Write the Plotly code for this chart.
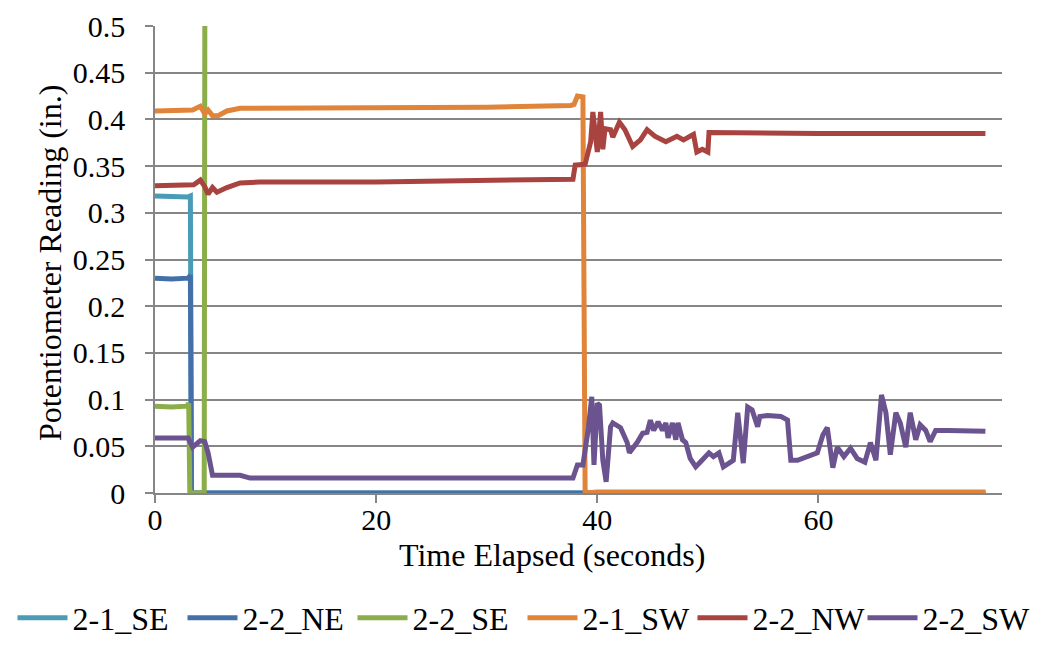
import plotly.graph_objects as go

# ---------------- data ----------------
series_names = ["2-1_SE", "2-2_NE", "2-2_SE", "2-1_SW", "2-2_NW", "2-2_SW"]
series_colors = ["#4A9BB6", "#4470AA", "#8BAD4A", "#E0843A", "#A84340", "#6B538F"]

t_21_SE = [0, 1.5, 3.0, 3.2, 3.3, 20, 40, 60, 75.1]
y_21_SE = [0.318, 0.317, 0.317, 0.318, 0.0, 0.0, 0.0, 0.0, 0.0]

t_22_NE = [0, 1.5, 3.0, 3.2, 3.3, 20, 40, 60, 75.1]
y_22_NE = [0.230, 0.229, 0.230, 0.233, 0.0, 0.0, 0.0, 0.0, 0.0]

t_22_SE = [0, 1.5, 2.9, 3.05, 3.15, 4.45, 4.55, 75.1]
y_22_SE = [0.093, 0.092, 0.093, 0.096, 0.0, 0.0, 0.9, 0.9]

t_21_SW = [0, 3.4, 4.1, 4.5, 4.8, 5.2, 5.7, 6.5, 7.7, 20, 30, 37.6, 37.9,
           38.2, 38.7, 38.9, 40, 60, 75.1]
y_21_SW = [0.409, 0.410, 0.414, 0.406, 0.410, 0.404, 0.404, 0.409, 0.412,
           0.412, 0.413, 0.415, 0.416, 0.425, 0.424, 0.0, 0.001, 0.001, 0.001]

t_22_NW = [0, 3.0, 3.5, 4.1, 4.5, 4.8, 5.2, 5.6, 6.5, 7.7, 9.5, 20, 30, 37.8,
           38.0, 38.9, 39.4, 39.6, 40.0, 40.3, 40.5, 40.7, 41.2, 41.4, 42.0,
           42.5, 43.2, 43.9, 44.5, 45.2, 46.2, 47.2, 47.8, 48.7, 49.0, 49.5,
           50.0, 50.1, 60, 75.1]
y_22_NW = [0.329, 0.329, 0.330, 0.335, 0.328, 0.320, 0.327, 0.322, 0.327,
           0.332, 0.333, 0.333, 0.334, 0.336, 0.351, 0.352, 0.376, 0.408,
           0.365, 0.408, 0.368, 0.390, 0.389, 0.381, 0.397, 0.389, 0.371,
           0.378, 0.389, 0.382, 0.376, 0.382, 0.378, 0.384, 0.365, 0.368,
           0.365, 0.386, 0.385, 0.385]

t_22_SW = [0, 3.0, 3.4, 4.1, 4.5, 4.8, 5.2, 7.7, 8.6, 20, 30, 37.8, 38.2,
           38.7, 39.2, 39.5, 39.7, 40.0, 40.2, 40.5, 40.8, 41.2, 41.4, 42.1,
           42.7, 42.9, 43.6, 44.1, 44.5, 44.8, 45.1, 45.5, 45.9, 46.2, 46.4,
           46.8, 47.1, 47.3, 47.7, 48.0, 48.4, 48.9, 49.3, 50.1, 50.5, 51.0,
           51.4, 52.0, 52.3, 52.7, 52.9, 53.2, 53.6, 54.0, 54.5, 54.7, 55.4,
           56.6, 57.2, 57.5, 58.1, 59.0, 59.9, 60.4, 60.8, 61.3, 61.7, 62.3,
           62.9, 63.5, 64.2, 64.7, 65.2, 65.7, 66.1, 66.5, 67.0, 67.4, 67.9,
           68.3, 68.8, 69.2, 69.7, 70.1, 70.6, 71.7, 73.8, 75.1]
y_22_SW = [0.059, 0.059, 0.049, 0.056, 0.055, 0.043, 0.019, 0.019, 0.016,
           0.016, 0.016, 0.016, 0.030, 0.030, 0.070, 0.103, 0.030, 0.096,
           0.094, 0.035, 0.012, 0.071, 0.075, 0.070, 0.054, 0.043, 0.054,
           0.064, 0.065, 0.078, 0.067, 0.076, 0.067, 0.075, 0.059, 0.075,
           0.057, 0.075, 0.057, 0.054, 0.037, 0.028, 0.033, 0.043, 0.039,
           0.043, 0.028, 0.033, 0.035, 0.086, 0.064, 0.032, 0.092, 0.089,
           0.071, 0.082, 0.083, 0.082, 0.078, 0.035, 0.035, 0.039, 0.043,
           0.062, 0.070, 0.027, 0.049, 0.039, 0.048, 0.037, 0.033, 0.054,
           0.035, 0.105, 0.086, 0.041, 0.086, 0.075, 0.049, 0.086, 0.057,
           0.073, 0.067, 0.055, 0.067, 0.067, 0.066, 0.066]

x_ticks = [0, 20, 40, 60]
y_ticks = [0, 0.05, 0.1, 0.15, 0.2, 0.25, 0.3, 0.35, 0.4, 0.45, 0.5]
y_tick_labels = ["0", "0.05", "0.1", "0.15", "0.2", "0.25", "0.3", "0.35",
                 "0.4", "0.45", "0.5"]

x_title = "Time Elapsed (seconds)"
y_title = "Potentiometer Reading (in.)"

# ---------------- figure ----------------
FONT = "Liberation Serif"
GRID = "#868686"
W, H = 1045, 645
PL, PR, PT, PB = 155, 1002, 26, 493   # plot-area edges in pixels

all_t = [t_21_SE, t_22_NE, t_22_SE, t_21_SW, t_22_NW, t_22_SW]
all_y = [y_21_SE, y_22_NE, y_22_SE, y_21_SW, y_22_NW, y_22_SW]

fig = go.Figure()
for name, color, tt, yy in zip(series_names, series_colors, all_t, all_y):
    fig.add_trace(go.Scatter(x=tt, y=yy, name=name, mode="lines",
                             line=dict(color=color, width=5)))

fig.update_layout(
    width=W, height=H,
    margin=dict(l=0, r=0, t=PT, b=H - PB, autoexpand=False),
    paper_bgcolor="white", plot_bgcolor="white",
    font=dict(family=FONT, size=30, color="black"),
    showlegend=True,
    legend=dict(orientation="h", xref="container", yref="container",
                x=0.5, xanchor="center", y=1 - 618 / H, yanchor="middle",
                font=dict(family=FONT, size=32, color="black"),
                itemwidth=50, entrywidth=105, tracegroupgap=0,
                bgcolor="rgba(0,0,0,0)"),
)
fig.update_xaxes(domain=[PL / W, PR / W],
                 range=[0, 76.6], tickvals=x_ticks, showgrid=False,
                 zeroline=False, showline=True, linecolor=GRID, linewidth=1.5,
                 ticks="outside", ticklen=8, tickcolor=GRID, tickwidth=1.5,
                 ticklabelstandoff=-9,
                 tickfont=dict(family=FONT, size=30, color="black"))
fig.update_yaxes(range=[0, 0.5], tickvals=y_ticks, ticktext=y_tick_labels,
                 showgrid=True, gridcolor=GRID, gridwidth=1.5,
                 zeroline=False, showline=True, linecolor=GRID, linewidth=1.5,
                 ticks="outside", ticklen=8, tickcolor=GRID, tickwidth=1.5,
                 ticklabelstandoff=14,
                 tickfont=dict(family=FONT, size=30, color="black"))

fig.add_annotation(text=x_title, xref="paper", yref="paper",
                   x=552 / W, y=(PB - 555) / (PB - PT),
                   xanchor="center", yanchor="middle", showarrow=False,
                   font=dict(family=FONT, size=32, color="black"))
fig.add_annotation(text=y_title, xref="paper", yref="paper",
                   x=50 / W, y=(PB - 263) / (PB - PT), textangle=-90,
                   xanchor="center", yanchor="middle", showarrow=False,
                   font=dict(family=FONT, size=32, color="black"))

fig.write_html("out.html", config={"displayModeBar": False},
               post_script="document.body.style.margin='0'")
